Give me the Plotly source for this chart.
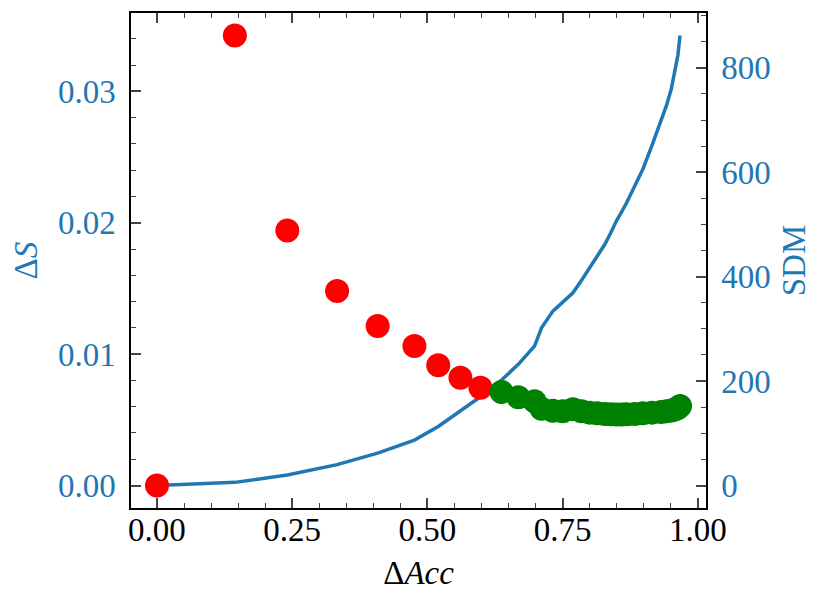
import plotly.graph_objects as go

# Data
acc_red = [0.0, 0.144, 0.241, 0.333, 0.408, 0.476, 0.520, 0.561, 0.598]
ds_red = [0.0, 0.03425, 0.01941, 0.01480, 0.01214, 0.01062, 0.00915, 0.00821, 0.00745]

acc_green = [0.637, 0.668, 0.698, 0.711, 0.732, 0.750, 0.769, 0.785, 0.800, 0.814,
             0.828, 0.839, 0.849, 0.859, 0.868, 0.883, 0.898, 0.915, 0.932, 0.942,
             0.951, 0.958, 0.963, 0.967]
ds_green = [0.00712, 0.00672, 0.00642, 0.00585, 0.00570, 0.00566, 0.00580, 0.00565,
            0.00555, 0.00550, 0.00545, 0.00542, 0.00540, 0.00540, 0.00542, 0.00545,
            0.00550, 0.00555, 0.00560, 0.00565, 0.00572, 0.00580, 0.00590, 0.00605]

acc_all = acc_red + acc_green
sdm = [0, 6, 20, 40, 62, 87, 113, 143, 170,
       202, 232, 267, 302, 334, 352, 369, 393, 417, 440,
       462, 484, 506, 524, 541, 573, 605, 651, 697, 728,
       760, 797, 824, 862]

BLUE = "#1f77b4"
FONT = "Liberation Serif"
FS = 33

fig = go.Figure()
fig.add_trace(go.Scatter(x=acc_all, y=sdm, mode="lines", line=dict(color=BLUE, width=3.5),
                         yaxis="y", showlegend=False))
fig.add_trace(go.Scatter(x=acc_red, y=ds_red, mode="markers",
                         marker=dict(color="red", size=24), yaxis="y2", showlegend=False))
fig.add_trace(go.Scatter(x=acc_green, y=ds_green, mode="markers",
                         marker=dict(color="green", size=24), yaxis="y2", showlegend=False))

fig.update_layout(
    width=829, height=609,
    margin=dict(l=123, r=131, t=5, b=109, autoexpand=False),
    plot_bgcolor="white", paper_bgcolor="white",
    font=dict(family=FONT, size=FS, color="black"),
    xaxis=dict(range=[-0.048, 1.015], tickvals=[0, 0.25, 0.5, 0.75, 1.0],
               tickformat=".2f", ticks="inside", ticklen=10, tickwidth=1.5,
               ticklabelstandoff=-8,
               showline=True, linecolor="black", linewidth=1.5, mirror="ticks",
               showgrid=False, zeroline=False,
               minor=dict(ticks="inside", dtick=0.05, ticklen=5, tickwidth=1.2, showgrid=False),
               title=dict(text="Δ<i>Acc</i>", font=dict(size=FS), standoff=14),
               tickfont=dict(size=FS, color="black")),
    yaxis=dict(range=[-43.1, 905], side="right", tickvals=[0, 200, 400, 600, 800],
               ticks="inside", ticklen=10, tickwidth=1.5, ticklabelstandoff=7,
               showline=True, linecolor="black", linewidth=1.5,
               showgrid=False, zeroline=False,
               minor=dict(ticks="inside", dtick=50, ticklen=5, tickwidth=1.2, showgrid=False),
               title=dict(text="SDM", font=dict(size=FS, color=BLUE), standoff=12),
               tickfont=dict(size=FS, color=BLUE)),
    yaxis2=dict(range=[-0.00171, 0.03597], side="left", overlaying="y",
                tickvals=[0, 0.01, 0.02, 0.03], tickformat=".2f",
                ticks="inside", ticklen=10, tickwidth=1.5, ticklabelstandoff=7,
                showline=True, linecolor="black", linewidth=1.5,
                showgrid=False, zeroline=False,
                minor=dict(ticks="inside", dtick=0.002, ticklen=5, tickwidth=1.2, showgrid=False),
                title=dict(text="Δ<i>S</i>", font=dict(size=FS, color=BLUE), standoff=12),
                tickfont=dict(size=FS, color=BLUE)),
)

fig.write_html("out.html")
